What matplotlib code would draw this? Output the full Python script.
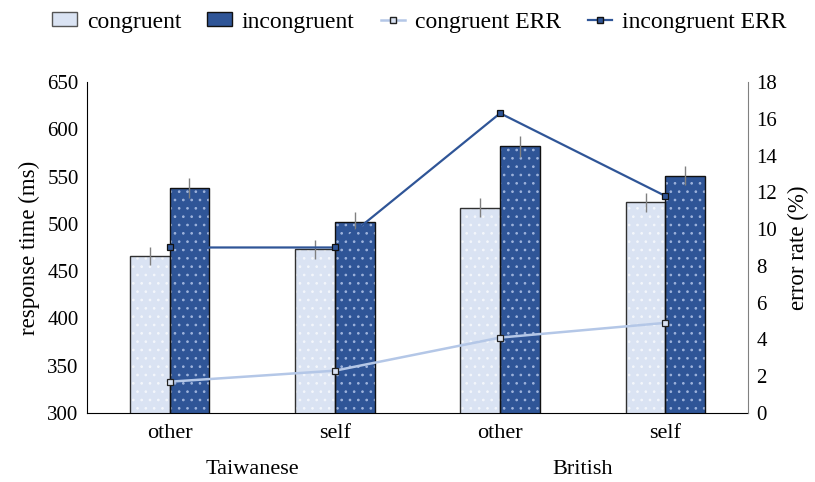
import matplotlib
matplotlib.use("Agg")
import matplotlib.pyplot as plt
import numpy as np
from matplotlib.patches import Patch
from matplotlib.lines import Line2D

plt.rcParams['font.family'] = ['Liberation Serif', 'DejaVu Serif']
plt.rcParams['hatch.linewidth'] = 0.7

conditions = ['other', 'self', 'other', 'self']
groups = ['Taiwanese', 'British']
rt_congruent = [466, 473, 517, 523]
rt_incongruent = [538, 502, 582, 551]
se_congruent = [10, 10, 10, 10]
se_incongruent = [11, 10, 11, 10]
err_congruent = [1.7, 2.3, 4.1, 4.9]
err_incongruent = [9.0, 9.0, 16.3, 11.8]

c_light = '#dae3f3'
c_dark = '#2f5597'
c_line_light = '#b4c7e7'

fig = plt.figure(figsize=(8.15, 4.82), dpi=100)
ax = fig.add_axes([0.1067, 0.1432, 0.8111, 0.6867])
x = np.arange(len(conditions))
w = 0.24

# fill + dotted hatch, then outline on top
ax.bar(x - w/2, rt_congruent, w, color=c_light, edgecolor='#f4f7fc',
       hatch='..', linewidth=0, zorder=2)
ax.bar(x + w/2, rt_incongruent, w, color=c_dark, edgecolor='#9fb4dc',
       hatch='..', linewidth=0, zorder=2)
ax.bar(x - w/2, rt_congruent, w, fill=False, edgecolor='#303030', linewidth=1.0, zorder=3)
ax.bar(x + w/2, rt_incongruent, w, fill=False, edgecolor='#111111', linewidth=1.0, zorder=3)
ax.errorbar(x - w/2, rt_congruent, yerr=se_congruent, fmt='none', ecolor='#808080',
            elinewidth=1.0, capsize=0, zorder=4)
ax.errorbar(x + w/2, rt_incongruent, yerr=se_incongruent, fmt='none', ecolor='#808080',
            elinewidth=1.0, capsize=0, zorder=4)

ax.set_ylim(300, 650)
ax.set_yticks(range(300, 651, 50))
ax.set_xlim(-0.5, 3.5)
ax.set_xticks(x)
ax.set_xticklabels(conditions)
ax.tick_params(axis='both', length=0)
ax.tick_params(axis='x', pad=8, labelsize=16)
ax.tick_params(axis='y', pad=6, labelsize=15)
ax.set_ylabel('response time (ms)', fontsize=16.5, labelpad=5)
for s in ['top', 'right']:
    ax.spines[s].set_visible(False)
ax.spines['left'].set_color('black')
ax.spines['bottom'].set_color('black')

for i, g in enumerate(groups):
    ax.text(2*i + 0.5, -0.172, g, transform=ax.get_xaxis_transform(),
            ha='center', va='center', fontsize=16)

ax2 = ax.twinx()
ax2.plot(x, err_congruent, color=c_line_light, lw=1.8, marker='s', ms=5,
         mfc=c_light, mec='#222222', mew=0.9, zorder=5)
ax2.plot(x, err_incongruent, color=c_dark, lw=1.6, marker='s', ms=5,
         mfc=c_dark, mec='#111111', mew=0.9, zorder=5)
ax2.set_ylim(0, 18)
ax2.set_yticks(range(0, 19, 2))
ax2.tick_params(axis='y', length=0, labelsize=15, pad=6)
ax2.set_ylabel('error rate (%)', fontsize=16.5, labelpad=8)
for s in ['top', 'left', 'bottom']:
    ax2.spines[s].set_visible(False)
ax2.spines['right'].set_color('#808080')
ax2.set_xlim(-0.5, 3.5)

handles = [
    Patch(facecolor=c_light, edgecolor='#555555', label='congruent'),
    Patch(facecolor=c_dark, edgecolor='#111111', label='incongruent'),
    Line2D([], [], color=c_line_light, lw=1.8, marker='s', ms=5, mfc=c_light,
           mec='#222222', label='congruent ERR'),
    Line2D([], [], color=c_dark, lw=1.6, marker='s', ms=5, mfc=c_dark,
           mec='#111111', label='incongruent ERR'),
]
fig.legend(handles=handles, loc='upper left', bbox_to_anchor=(0.038, 1.02), ncol=4,
           frameon=False, fontsize=17, handlelength=1.05, handleheight=0.55,
           handletextpad=0.42, columnspacing=1.1)

fig.savefig('out.png', dpi=100)
